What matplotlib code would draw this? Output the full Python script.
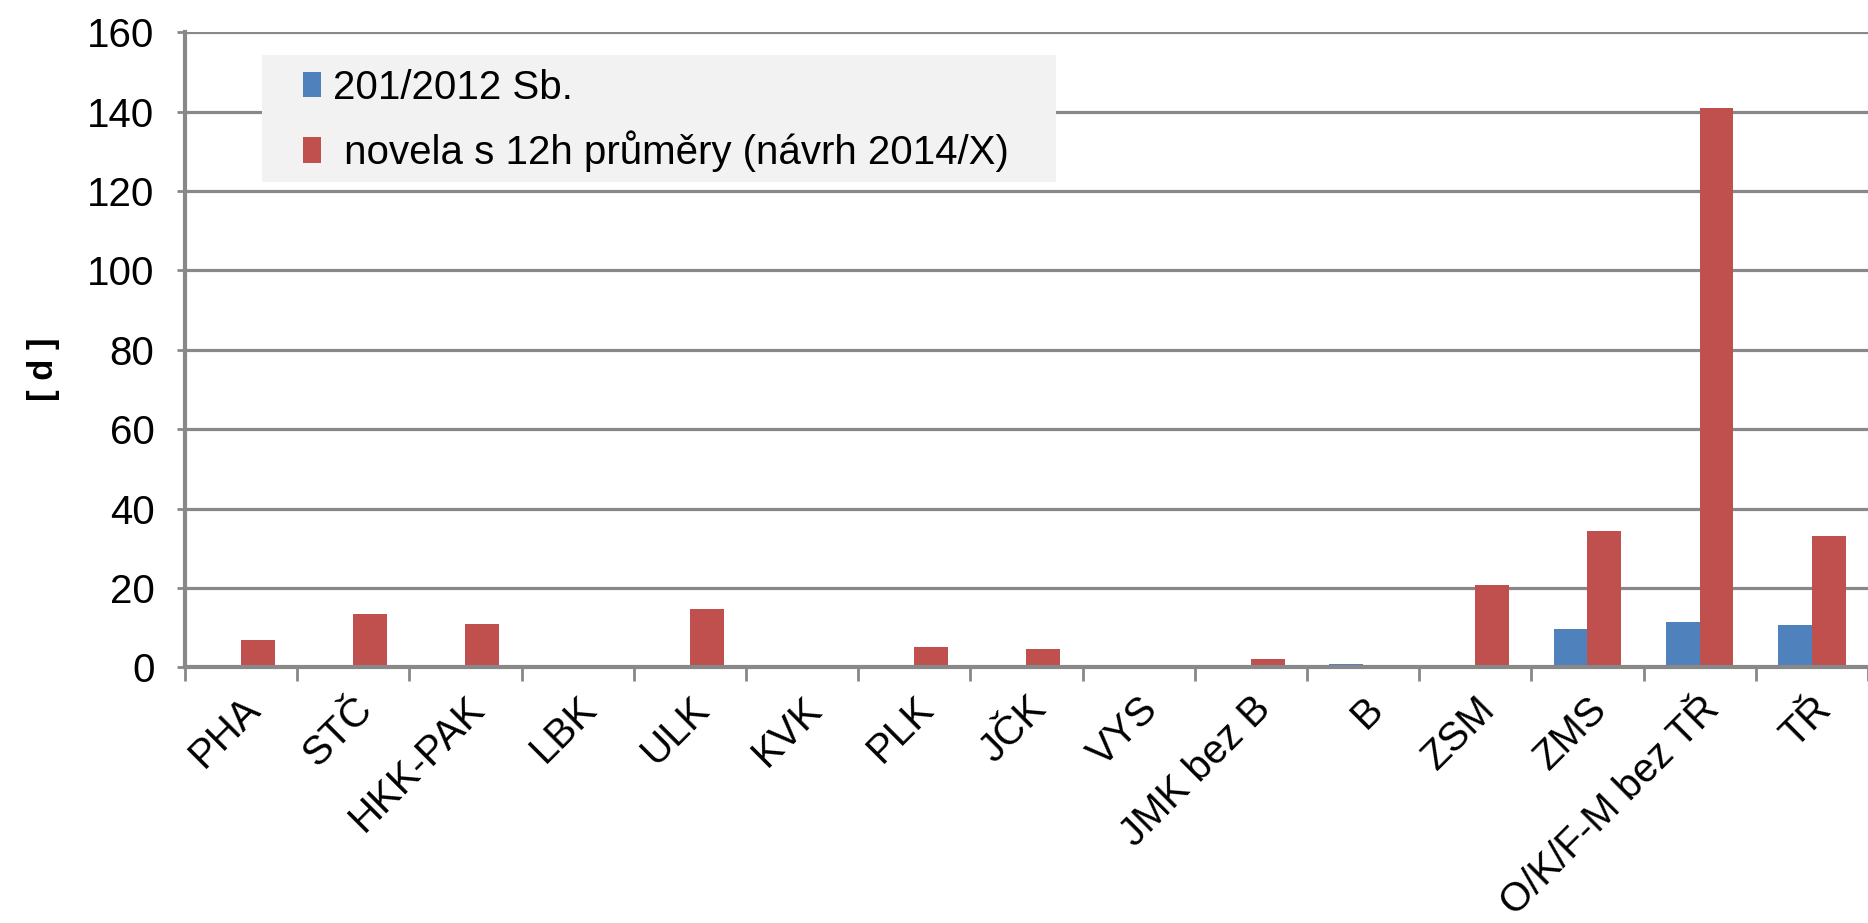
import matplotlib.pyplot as plt
import matplotlib.patches as mpatches
import numpy as np

plt.rcParams['font.family'] = ['Liberation Sans', 'DejaVu Sans']

kraje = ["PHA", "STČ", "HKK-PAK", "LBK", "ULK", "KVK", "PLK", "JČK", "VYS",
         "JMK bez B", "B", "ZSM", "ZMS", "O/K/F-M bez TŘ", "TŘ"]
stary = [0, 0, 0, 0, 0, 0, 0, 0, 0, 0, 0.8, 0, 9.7, 11.4, 10.6]
novela = [7.0, 13.4, 11.0, 0, 14.8, 0, 5.2, 4.7, 0, 2.2, 0, 20.8, 34.3, 141, 33.0]
nazvy = ["201/2012 Sb.", " novela s 12h průměry (návrh 2014/X)"]

fig = plt.figure(figsize=(18.68, 9.23), dpi=100)
ax = fig.add_axes((0.099, 0.277, 0.901, 0.688))

x = np.arange(len(kraje))
w = 0.3
ax.bar(x - w / 2, stary, w, color="#4F81BD", label=nazvy[0], zorder=3)
ax.bar(x + w / 2, novela, w, color="#C0504D", label=nazvy[1], zorder=3)

ax.set_xlim(-0.5, len(kraje) - 0.5)
ax.set_ylim(0, 160)
ax.set_yticks(np.arange(0, 161, 20))
ax.yaxis.grid(True, color="#888888", linewidth=2.3, zorder=0)

ax.set_xticks(x)
ax.set_xticklabels(kraje, rotation=45, ha="right", rotation_mode="anchor", fontsize=29)
ax.set_xticks(np.arange(-0.5, len(kraje), 1), minor=True)
ax.tick_params(axis="x", which="major", length=0, pad=16)
ax.tick_params(axis="x", which="minor", length=10, width=2, color="#888888")
ax.tick_params(axis="y", length=6, width=2, color="#888888", labelsize=29, pad=16)

for s in ["top", "right"]:
    ax.spines[s].set_visible(False)
for s in ["left", "bottom"]:
    ax.spines[s].set_color("#888888")
    ax.spines[s].set_linewidth(3)
ax.spines["bottom"].set_zorder(4)

ax.set_ylabel("[ d ]", fontsize=25, fontweight="bold")
ax.yaxis.set_label_coords(-0.074, 0.47)

# sede pozadi legendy
pozadi = mpatches.Rectangle((0.0458, 0.765), 0.472, 0.2, transform=ax.transAxes,
                            facecolor="#f2f2f2", edgecolor="none", zorder=4)
ax.add_patch(pozadi)

leg = ax.legend(loc="upper left", bbox_to_anchor=(0.07, 0.943), fontsize=29,
                frameon=False, handlelength=0.45, handleheight=0.6, handletextpad=0.3,
                borderpad=0, labelspacing=0.6, borderaxespad=0)
leg.set_zorder(5)

fig.savefig("out.png", dpi=100)
